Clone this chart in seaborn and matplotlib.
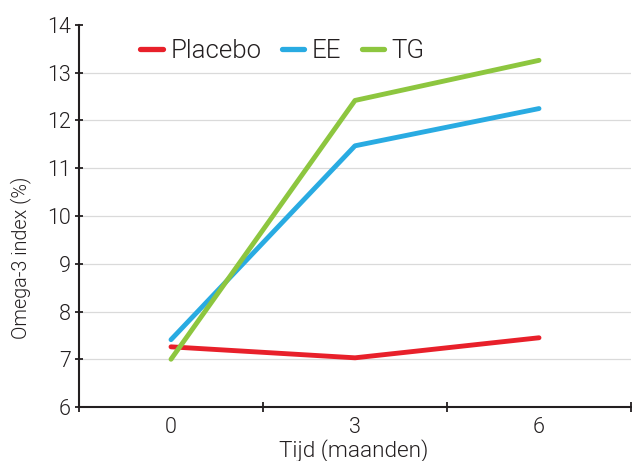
import matplotlib
matplotlib.use("Agg")
import matplotlib.pyplot as plt
import seaborn as sns
import pandas as pd
from matplotlib.ticker import FixedLocator

months = [0, 3, 6]
month_labels = ["0", "3", "6"]
series_names = ["Placebo", "EE", "TG"]
placebo = [7.26, 7.03, 7.45]
ee = [7.41, 11.47, 12.25]
tg = [7.0, 12.42, 13.26]
colors = ["#E8202A", "#29ABE2", "#8DC63F"]
y_ticks = [6, 7, 8, 9, 10, 11, 12, 13, 14]

rows = []
for name, vals in zip(series_names, [placebo, ee, tg]):
    for m, v in zip(months, vals):
        rows.append({"Tijd": m, "Omega": v, "Groep": name})
df = pd.DataFrame(rows)

sns.set_style("white")
plt.rcParams["font.family"] = ["Roboto", "DejaVu Sans"]
plt.rcParams["font.weight"] = 300
plt.rcParams["axes.labelweight"] = 300
dark = "#231F20"

fig = plt.figure(figsize=(6.32, 4.61), dpi=100)
ax = fig.add_axes([79/632, 1-407/461, 552/632, 382/461])

sns.lineplot(data=df, x="Tijd", y="Omega", hue="Groep", hue_order=series_names,
             palette=colors, linewidth=3.5, ax=ax, legend=True)

ax.set_ylim(6, 14)
ax.set_xlim(-1.5, 7.5)
ax.set_yticks(y_ticks)
ax.set_yticklabels([str(v) for v in y_ticks])
ax.set_xticks(months)
ax.set_xticklabels(month_labels)
ax.xaxis.set_minor_locator(FixedLocator([-1.5, 1.5, 4.5, 7.5]))

for yv in y_ticks[1:-1]:
    ax.axhline(yv, color="#DADADA", linewidth=0.9, zorder=0)

for s in ["top", "right"]:
    ax.spines[s].set_visible(False)
for s in ["left", "bottom"]:
    ax.spines[s].set_color(dark)
    ax.spines[s].set_linewidth(1.5)

ax.tick_params(axis="y", left=True, direction="inout", length=6, width=1.3, color=dark,
               labelcolor=dark, labelsize=15.5, pad=3)
ax.tick_params(axis="x", which="major", bottom=True, length=0, labelsize=15.5,
               labelcolor=dark, pad=7.5)
ax.tick_params(axis="x", which="minor", bottom=True, direction="inout", length=7,
               width=1.3, color=dark)
for lab in ax.get_xticklabels() + ax.get_yticklabels():
    lab.set_fontweight(300)

ax.set_xlabel("Tijd (maanden)", fontsize=16.2, color=dark, fontweight=300)
ax.set_ylabel("Omega-3 index (%)", fontsize=14.2, color=dark, fontweight=300)
ax.xaxis.set_label_coords(0.497, -0.083)
ax.yaxis.set_label_coords(-0.087, 0.39)

leg = ax.legend(loc="center", bbox_to_anchor=(0.369, 0.932), ncol=3, frameon=False,
                prop={"size": 18.6, "weight": 300}, handlelength=0.87,
                handletextpad=0.3, columnspacing=0.78)
for t in leg.get_texts():
    t.set_color(dark)
for h in leg.get_lines():
    h.set_linewidth(3.8)

fig.savefig("out.png", dpi=100)
